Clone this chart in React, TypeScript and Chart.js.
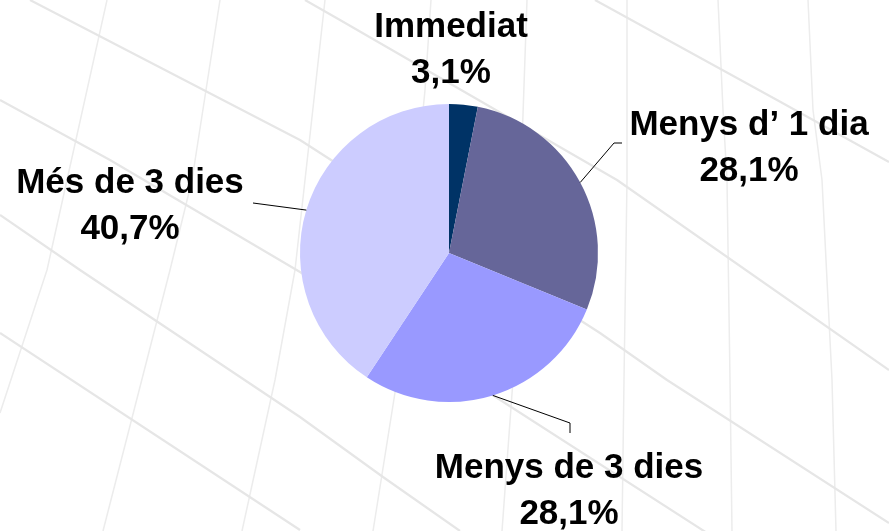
import React, { useEffect, useRef } from "react";
import { Chart, registerables } from "chart.js";

Chart.register(...registerables);

// ---- data ----
const categories = ["Immediat", "Menys d\u2019 1 dia", "Menys de 3 dies", "Més de 3 dies"];
const values = [3.1, 28.1, 28.1, 40.7];
const colors = ["#003366", "#666699", "#9999FF", "#CCCCFF"];

// ---- label layout (text centre x, first baseline y, optional leader elbow/end) ----
const labelLayout = [
  { x: 451, y: 37, elbow: null as null | number[], end: null as null | number[] },
  { x: 749, y: 135, elbow: [614, 143], end: [622, 143] },
  { x: 569, y: 478, elbow: [570, 423], end: [570, 433] },
  { x: 130, y: 193, elbow: [253, 203], end: null },
];

// ---- decorative background grid (slide background) ----
const bgVertical: number[][][] = [
  [[107, 0], [67, 180], [47, 270], [0, 413]],
  [[220, 0], [192, 180], [170, 270], [103, 531]],
  [[325, 0], [315, 90], [295, 270], [275, 380], [242, 531]],
  [[431, 0], [425, 90], [397, 380], [373, 531]],
  [[527, 0], [520, 200], [513, 380], [502, 531]],
  [[627, 0], [627, 180], [624, 380], [622, 531]],
  [[718, 0], [723, 110], [727, 180], [730, 380], [732, 531]],
  [[808, 0], [813, 110], [822, 180], [832, 380], [836, 531]],
];
const bgDiagonal: number[][][] = [
  [[595, 0], [777, 100], [889, 162]],
  [[30, 0], [300, 140], [600, 333], [667, 380], [889, 523]],
  [[305, 0], [340, 20], [617, 180], [889, 370]],
  [[0, 100], [110, 160], [300, 272], [480, 387], [889, 650]],
  [[0, 215], [80, 270], [300, 417], [383, 477], [460, 531]],
  [[0, 333], [300, 530]],
];

const FONT = "bold 35px 'Liberation Sans', Arial, sans-serif";
const LINE_H = 46;

const fmt = (v: number) => v.toFixed(1).replace(".", ",") + "%";

const bgPlugin = {
  id: "bgGrid",
  beforeDraw(chart: any) {
    const ctx = chart.ctx as CanvasRenderingContext2D;
    ctx.save();
    ctx.fillStyle = "#ffffff";
    ctx.fillRect(0, 0, chart.width, chart.height);
    const drawSet = (set: number[][][], color: string, w: number) => {
      ctx.strokeStyle = color;
      ctx.lineWidth = w;
      ctx.lineJoin = "round";
      for (const pl of set) {
        ctx.beginPath();
        pl.forEach((p, i) => (i === 0 ? ctx.moveTo(p[0], p[1]) : ctx.lineTo(p[0], p[1])));
        ctx.stroke();
      }
    };
    drawSet(bgVertical, "#ececec", 1.5);
    drawSet(bgDiagonal, "#e6e6e6", 2.2);
    ctx.restore();
  },
};

const labelPlugin = {
  id: "pieLabels",
  afterDatasetsDraw(chart: any) {
    const ctx = chart.ctx as CanvasRenderingContext2D;
    const meta = chart.getDatasetMeta(0);
    ctx.save();
    meta.data.forEach((arc: any, i: number) => {
      const { x, y, startAngle, endAngle, outerRadius } = arc.getProps(
        ["x", "y", "startAngle", "endAngle", "outerRadius"],
        true
      );
      const mid = (startAngle + endAngle) / 2;
      const px = x + Math.cos(mid) * outerRadius;
      const py = y + Math.sin(mid) * outerRadius;
      const lay = labelLayout[i];
      if (lay.elbow) {
        ctx.strokeStyle = "#000000";
        ctx.lineWidth = 1;
        ctx.beginPath();
        ctx.moveTo(px, py);
        ctx.lineTo(lay.elbow[0], lay.elbow[1]);
        if (lay.end) ctx.lineTo(lay.end[0], lay.end[1]);
        ctx.stroke();
      }
      ctx.fillStyle = "#000000";
      ctx.font = FONT;
      ctx.textAlign = "center";
      ctx.textBaseline = "alphabetic";
      ctx.fillText(categories[i], lay.x, lay.y);
      ctx.fillText(fmt(values[i]), lay.x, lay.y + LINE_H);
    });
    ctx.restore();
  },
};

export default function App() {
  const ref = useRef<HTMLCanvasElement | null>(null);
  useEffect(() => {
    document.body.style.margin = "0";
    if (!ref.current) return;
    const chart = new Chart(ref.current, {
      type: "pie",
      data: {
        labels: categories,
        datasets: [
          {
            data: values,
            backgroundColor: colors,
            borderWidth: 0,
          },
        ],
      },
      options: {
        responsive: false,
        animation: false,
        layout: { padding: { left: 300, right: 291, top: 104, bottom: 129 } },
        plugins: {
          legend: { display: false },
          tooltip: { enabled: false },
        },
      },
      plugins: [bgPlugin, labelPlugin],
    });
    return () => chart.destroy();
  }, []);
  return (
    <div style={{ width: 889, height: 531 }}>
      <canvas ref={ref} width={889} height={531} style={{ display: "block" }} />
    </div>
  );
}
